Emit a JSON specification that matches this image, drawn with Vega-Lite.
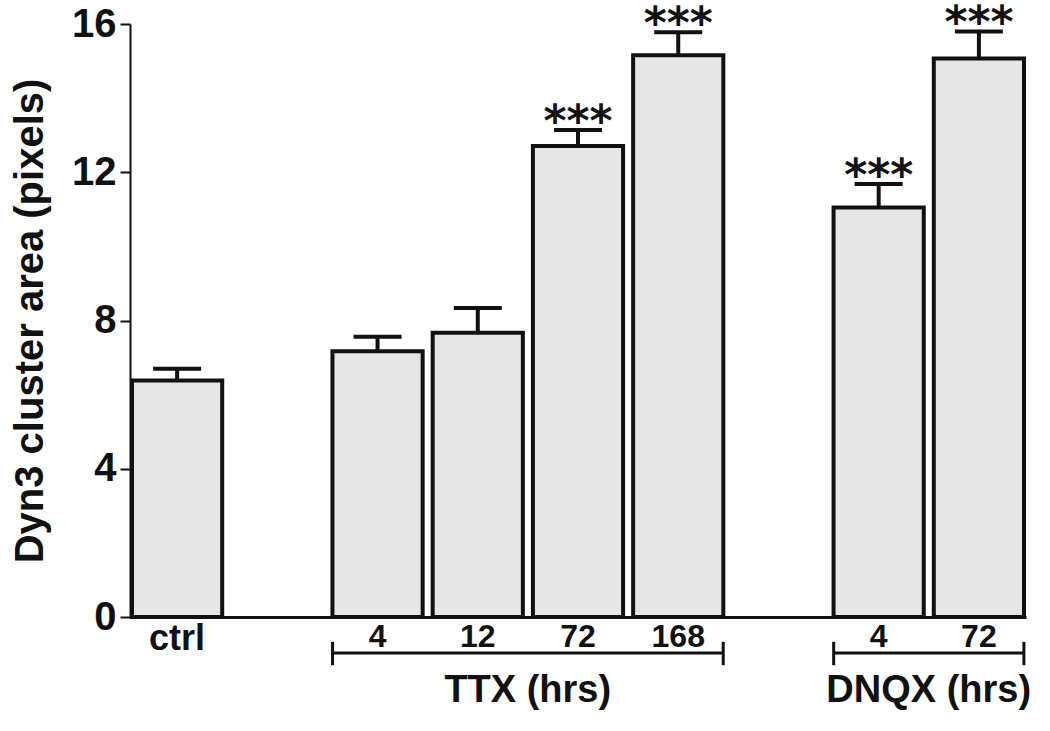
{
  "$schema": "https://vega.github.io/schema/vega-lite/v6.json",
  "width": 896,
  "height": 593,
  "autosize": "none",
  "padding": {"left": 130, "top": 24, "right": 24, "bottom": 114},
  "background": "white",
  "config": {"view": {"stroke": null}, "font": "Liberation Sans"},
  "datasets": {
    "bars": [
      {"group": "ctrl", "value": 6.38, "upper": 6.70, "sig": ""},
      {"group": "TTX4", "value": 7.17, "upper": 7.56, "sig": ""},
      {"group": "TTX12", "value": 7.67, "upper": 8.34, "sig": ""},
      {"group": "TTX72", "value": 12.71, "upper": 13.14, "sig": "***"},
      {"group": "TTX168", "value": 15.16, "upper": 15.78, "sig": "***"},
      {"group": "DNQX4", "value": 11.05, "upper": 11.68, "sig": "***"},
      {"group": "DNQX72", "value": 15.07, "upper": 15.80, "sig": "***"}
    ],
    "brackets": [
      {"label": "TTX (hrs)", "start": "TTX4", "end": "TTX168", "mid": "TTX12"},
      {"label": "DNQX (hrs)", "start": "DNQX4", "end": "DNQX72", "mid": "DNQX4"}
    ]
  },
  "layer": [
    {
      "data": {"name": "bars"},
      "mark": {"type": "bar", "fill": "#e6e6e6", "stroke": "#111111", "strokeWidth": 4},
      "encoding": {
        "x": {
          "field": "group", "type": "nominal", "sort": null,
          "scale": {"domain": ["ctrl", "gap1", "TTX4", "TTX12", "TTX72", "TTX168", "gap2", "DNQX4", "DNQX72"], "paddingInner": 0.1, "paddingOuter": 0.02},
          "axis": {
            "title": null, "ticks": false, "labelAngle": 0, "domainWidth": 3, "domainColor": "#111111",
            "labelFontSize": {"condition": {"test": "datum.value == 'ctrl'", "value": 36}, "value": 32},
            "labelFontWeight": "bold", "labelColor": "#111111", "labelPadding": 4,
            "labelExpr": "datum.value == 'ctrl' ? 'ctrl' : (indexof(datum.value, 'gap') == 0 ? '' : replace(replace(datum.value, 'TTX', ''), 'DNQX', ''))"
          }
        },
        "y": {
          "field": "value", "type": "quantitative",
          "scale": {"domain": [0, 16], "nice": false},
          "axis": {
            "title": "Dyn3 cluster area (pixels)", "titleFontSize": 40, "titleFontWeight": "bold", "titleColor": "#111111", "titlePadding": 21,
            "values": [0, 4, 8, 12, 16], "grid": false, "tickSize": 10, "tickWidth": 2, "tickColor": "#111111",
            "domainWidth": 2, "domainColor": "#111111",
            "labelFontSize": 40, "labelFontWeight": "bold", "labelColor": "#111111", "labelPadding": 4
          }
        }
      }
    },
    {
      "data": {"name": "bars"},
      "mark": {"type": "rule", "strokeWidth": 4, "color": "#111111"},
      "encoding": {
        "x": {"field": "group", "type": "nominal", "sort": null, "scale": {"domain": ["ctrl", "gap1", "TTX4", "TTX12", "TTX72", "TTX168", "gap2", "DNQX4", "DNQX72"], "paddingInner": 0.1, "paddingOuter": 0.02}},
        "y": {"field": "value", "type": "quantitative", "scale": {"domain": [0, 16], "nice": false}},
        "y2": {"field": "upper"}
      }
    },
    {
      "data": {"name": "bars"},
      "mark": {"type": "tick", "size": 48, "thickness": 4, "color": "#111111", "orient": "horizontal", "opacity": 1},
      "encoding": {
        "x": {"field": "group", "type": "nominal", "sort": null, "scale": {"domain": ["ctrl", "gap1", "TTX4", "TTX12", "TTX72", "TTX168", "gap2", "DNQX4", "DNQX72"], "paddingInner": 0.1, "paddingOuter": 0.02}},
        "y": {"field": "upper", "type": "quantitative", "scale": {"domain": [0, 16], "nice": false}}
      }
    },
    {
      "data": {"name": "bars"},
      "mark": {"type": "text", "font": "DejaVu Sans", "fontSize": 44, "fontWeight": "bold", "color": "#111111", "baseline": "alphabetic", "dy": 6},
      "encoding": {
        "x": {"field": "group", "type": "nominal", "sort": null, "scale": {"domain": ["ctrl", "gap1", "TTX4", "TTX12", "TTX72", "TTX168", "gap2", "DNQX4", "DNQX72"], "paddingInner": 0.1, "paddingOuter": 0.02}},
        "y": {"field": "upper", "type": "quantitative", "scale": {"domain": [0, 16], "nice": false}},
        "text": {"field": "sig"}
      }
    },
    {
      "data": {"name": "brackets"},
      "mark": {"type": "rule", "strokeWidth": 3, "color": "#111111", "xOffset": -45, "x2Offset": 45},
      "encoding": {
        "x": {"field": "start", "type": "nominal", "scale": {"domain": ["ctrl", "gap1", "TTX4", "TTX12", "TTX72", "TTX168", "gap2", "DNQX4", "DNQX72"], "paddingInner": 0.1, "paddingOuter": 0.02}},
        "x2": {"field": "end"},
        "y": {"datum": -0.97, "type": "quantitative", "scale": {"domain": [0, 16], "nice": false}}
      }
    },
    {
      "data": {"name": "brackets"},
      "mark": {"type": "rule", "strokeWidth": 3, "color": "#111111", "xOffset": -45},
      "encoding": {
        "x": {"field": "start", "type": "nominal", "scale": {"domain": ["ctrl", "gap1", "TTX4", "TTX12", "TTX72", "TTX168", "gap2", "DNQX4", "DNQX72"], "paddingInner": 0.1, "paddingOuter": 0.02}},
        "y": {"datum": -0.67, "type": "quantitative", "scale": {"domain": [0, 16], "nice": false}},
        "y2": {"datum": -1.3}
      }
    },
    {
      "data": {"name": "brackets"},
      "mark": {"type": "rule", "strokeWidth": 3, "color": "#111111", "xOffset": 45},
      "encoding": {
        "x": {"field": "end", "type": "nominal", "scale": {"domain": ["ctrl", "gap1", "TTX4", "TTX12", "TTX72", "TTX168", "gap2", "DNQX4", "DNQX72"], "paddingInner": 0.1, "paddingOuter": 0.02}},
        "y": {"datum": -0.67, "type": "quantitative", "scale": {"domain": [0, 16], "nice": false}},
        "y2": {"datum": -1.3}
      }
    },
    {
      "data": {"name": "brackets"},
      "mark": {"type": "text", "fontSize": 38, "fontWeight": "bold", "color": "#111111", "baseline": "alphabetic", "dx": 50},
      "encoding": {
        "x": {"field": "mid", "type": "nominal", "scale": {"domain": ["ctrl", "gap1", "TTX4", "TTX12", "TTX72", "TTX168", "gap2", "DNQX4", "DNQX72"], "paddingInner": 0.1, "paddingOuter": 0.02}},
        "y": {"datum": -2.29, "type": "quantitative", "scale": {"domain": [0, 16], "nice": false}},
        "text": {"field": "label"}
      }
    }
  ]
}
